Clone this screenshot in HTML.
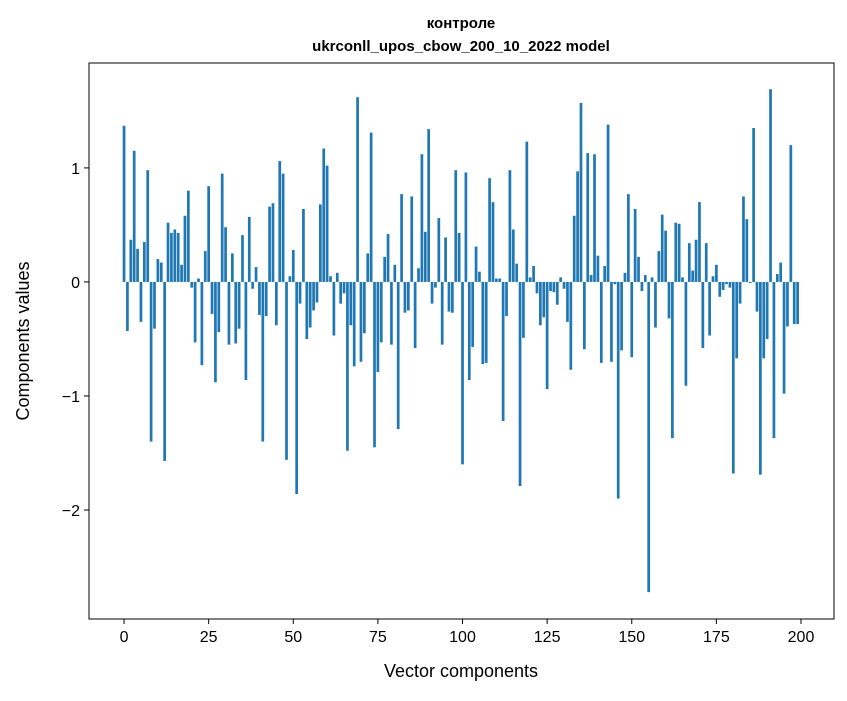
<!DOCTYPE html>
<html><head><meta charset="utf-8"><style>
body{margin:0;background:#fff;}
svg text{font-family:"Liberation Sans","DejaVu Sans",sans-serif;fill:#000;}
</style></head><body>
<svg id="chart" width="847" height="696" xmlns="http://www.w3.org/2000/svg">
<rect width="847" height="696" fill="#fff"/>
<text x="461" y="28" font-size="15" font-weight="bold" text-anchor="middle">контроле</text>
<text x="461" y="51" font-size="15" font-weight="bold" text-anchor="middle">ukrconll_upos_cbow_200_10_2022 model</text>
<g id="bars"></g>
<g id="axes"></g>
<rect x="89" y="63" width="745" height="556" fill="none" stroke="#000" stroke-width="1"/>
<text x="461" y="677" font-size="18" text-anchor="middle">Vector components</text>
<text x="29" y="341" font-size="18" text-anchor="middle" transform="rotate(-90 29 341)">Components values</text>
</svg>
<script>
const values = [1.37,-0.43,0.37,1.15,0.29,-0.35,0.35,0.98,-1.40,-0.41,
0.20,0.17,-1.57,0.52,0.43,0.46,0.43,0.15,0.58,0.80,
-0.05,-0.53,0.03,-0.73,0.27,0.84,-0.28,-0.88,-0.44,0.95,
0.48,-0.55,0.25,-0.54,-0.41,0.41,-0.86,0.57,-0.06,0.13,
-0.29,-1.40,-0.30,0.66,0.69,-0.38,1.06,0.95,-1.56,0.05,
0.28,-1.86,-0.19,0.64,-0.50,-0.40,-0.25,-0.18,0.68,1.17,
1.02,0.05,-0.47,0.08,-0.19,-0.10,-1.48,-0.38,-0.74,1.62,
-0.70,-0.45,0.25,1.31,-1.45,-0.79,-0.53,0.22,0.42,-0.55,
0.15,-1.29,0.77,-0.27,-0.25,0.75,-0.58,0.12,1.12,0.44,
1.34,-0.19,-0.05,0.56,-0.55,0.39,-0.26,-0.27,0.98,0.43,
-1.60,0.96,-0.86,-0.57,0.31,0.09,-0.72,-0.71,0.91,0.70,
0.03,0.03,-1.22,-0.30,0.98,0.46,0.16,-1.79,-0.49,1.23,
0.04,0.14,-0.10,-0.38,-0.31,-0.94,-0.08,-0.09,-0.20,0.04,
-0.06,-0.35,-0.77,0.58,0.97,1.57,-0.59,1.13,0.06,1.12,
0.23,-0.71,0.14,1.38,-0.70,-0.02,-1.90,-0.60,0.08,0.77,
-0.66,0.64,0.22,-0.08,0.06,-2.72,0.04,-0.40,0.27,0.59,
0.45,-0.32,-1.37,0.52,0.51,0.04,-0.91,0.34,0.10,0.37,
0.70,-0.58,0.34,-0.47,0.05,0.15,-0.13,-0.07,-0.02,-0.05,
-1.68,-0.67,-0.19,0.75,0.55,-0.01,1.35,-0.26,-1.69,-0.67,
-0.50,1.69,-1.37,0.07,0.17,-0.98,-0.39,1.20,-0.37,-0.37];
const xTicks = [0,25,50,75,100,125,150,175,200];
const yTicks = [-2,-1,0,1];
const yTickLabels = ["\u22122","\u22121","0","1"];

const X0=89,X1=834,Y0=63,Y1=619;
const xMin=-10.35,xMax=209.75,yMin=-2.956,yMax=1.92;
const xs=v=>X0+(v-xMin)/(xMax-xMin)*(X1-X0);
const ys=v=>Y1-(v-yMin)/(yMax-yMin)*(Y1-Y0);
const NS="http://www.w3.org/2000/svg";
const bars=document.getElementById('bars');
const bw=0.8*(X1-X0)/(xMax-xMin);
values.forEach((v,i)=>{
  const r=document.createElementNS(NS,'rect');
  
  
  const a=ys(v),b=ys(0);
  r.setAttribute('x',xs(i)-bw/2);
  r.setAttribute('y',Math.min(a,b));
  r.setAttribute('width',bw);
  r.setAttribute('height',Math.abs(a-b));
  r.setAttribute('fill','#1f77b4');
  bars.appendChild(r);
});
const axes=document.getElementById('axes');
xTicks.forEach(t=>{
  const l=document.createElementNS(NS,'line');
  
  
  l.setAttribute('x1',xs(t));l.setAttribute('x2',xs(t));
  l.setAttribute('y1',Y1);l.setAttribute('y2',Y1+5);
  l.setAttribute('stroke','#000');
  axes.appendChild(l);
  const tx=document.createElementNS(NS,'text');
  
  
  tx.setAttribute('x',xs(t));tx.setAttribute('y',Y1+23);
  tx.setAttribute('font-size','16');tx.setAttribute('text-anchor','middle');
  tx.textContent=t;
  axes.appendChild(tx);
});
yTicks.forEach((t,i)=>{
  const l=document.createElementNS(NS,'line');
  
  
  l.setAttribute('x1',X0-5);l.setAttribute('x2',X0);
  l.setAttribute('y1',ys(t));l.setAttribute('y2',ys(t));
  l.setAttribute('stroke','#000');
  axes.appendChild(l);
  const tx=document.createElementNS(NS,'text');
  
  
  tx.setAttribute('x',X0-9);tx.setAttribute('y',ys(t)+6);
  tx.setAttribute('font-size','16');tx.setAttribute('text-anchor','end');
  tx.textContent=yTickLabels[i];
  axes.appendChild(tx);
});
</script>
</body></html>
